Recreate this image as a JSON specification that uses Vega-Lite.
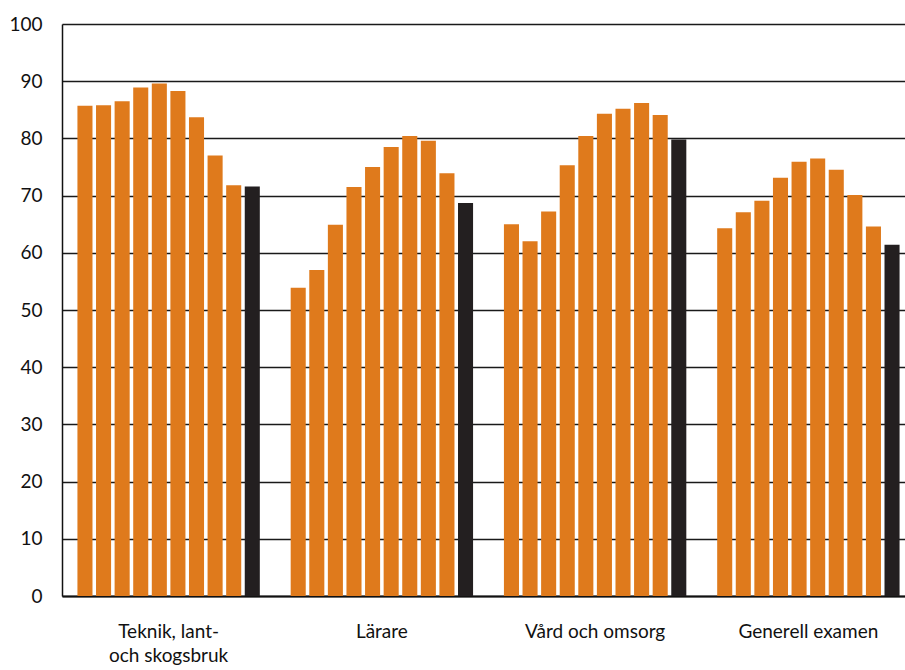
{
  "$schema": "https://vega.github.io/schema/vega-lite/v6.json",
  "autosize": "none",
  "width": 843,
  "height": 572,
  "padding": {"left": 62, "top": 24, "right": 0, "bottom": 74},
  "background": "white",
  "config": {"view": {"stroke": null}, "font": "Lato"},
  "data": {"values": [
    {"g": "Teknik, lant-|och skogsbruk", "i": 1, "t": "a", "v": 85.7},
    {"g": "Teknik, lant-|och skogsbruk", "i": 2, "t": "a", "v": 85.8},
    {"g": "Teknik, lant-|och skogsbruk", "i": 3, "t": "a", "v": 86.5},
    {"g": "Teknik, lant-|och skogsbruk", "i": 4, "t": "a", "v": 88.9},
    {"g": "Teknik, lant-|och skogsbruk", "i": 5, "t": "a", "v": 89.6},
    {"g": "Teknik, lant-|och skogsbruk", "i": 6, "t": "a", "v": 88.3},
    {"g": "Teknik, lant-|och skogsbruk", "i": 7, "t": "a", "v": 83.7},
    {"g": "Teknik, lant-|och skogsbruk", "i": 8, "t": "a", "v": 77.0},
    {"g": "Teknik, lant-|och skogsbruk", "i": 9, "t": "a", "v": 71.8},
    {"g": "Teknik, lant-|och skogsbruk", "i": 10, "t": "b", "v": 71.6},
    {"g": "Lärare", "i": 1, "t": "a", "v": 53.9},
    {"g": "Lärare", "i": 2, "t": "a", "v": 57.0},
    {"g": "Lärare", "i": 3, "t": "a", "v": 64.9},
    {"g": "Lärare", "i": 4, "t": "a", "v": 71.5},
    {"g": "Lärare", "i": 5, "t": "a", "v": 75.0},
    {"g": "Lärare", "i": 6, "t": "a", "v": 78.5},
    {"g": "Lärare", "i": 7, "t": "a", "v": 80.4},
    {"g": "Lärare", "i": 8, "t": "a", "v": 79.6},
    {"g": "Lärare", "i": 9, "t": "a", "v": 73.9},
    {"g": "Lärare", "i": 10, "t": "b", "v": 68.7},
    {"g": "Vård och omsorg", "i": 1, "t": "a", "v": 65.0},
    {"g": "Vård och omsorg", "i": 2, "t": "a", "v": 62.0},
    {"g": "Vård och omsorg", "i": 3, "t": "a", "v": 67.2},
    {"g": "Vård och omsorg", "i": 4, "t": "a", "v": 75.3},
    {"g": "Vård och omsorg", "i": 5, "t": "a", "v": 80.4},
    {"g": "Vård och omsorg", "i": 6, "t": "a", "v": 84.3},
    {"g": "Vård och omsorg", "i": 7, "t": "a", "v": 85.2},
    {"g": "Vård och omsorg", "i": 8, "t": "a", "v": 86.2},
    {"g": "Vård och omsorg", "i": 9, "t": "a", "v": 84.1},
    {"g": "Vård och omsorg", "i": 10, "t": "b", "v": 79.8},
    {"g": "Generell examen", "i": 1, "t": "a", "v": 64.3},
    {"g": "Generell examen", "i": 2, "t": "a", "v": 67.1},
    {"g": "Generell examen", "i": 3, "t": "a", "v": 69.1},
    {"g": "Generell examen", "i": 4, "t": "a", "v": 73.1},
    {"g": "Generell examen", "i": 5, "t": "a", "v": 75.9},
    {"g": "Generell examen", "i": 6, "t": "a", "v": 76.5},
    {"g": "Generell examen", "i": 7, "t": "a", "v": 74.5},
    {"g": "Generell examen", "i": 8, "t": "a", "v": 70.1},
    {"g": "Generell examen", "i": 9, "t": "a", "v": 64.6},
    {"g": "Generell examen", "i": 10, "t": "b", "v": 61.4}
  ]},
  "mark": {"type": "bar"},
  "encoding": {
    "x": {
      "field": "g", "type": "nominal", "sort": null, "title": null,
      "scale": {"paddingInner": 0, "paddingOuter": 0, "range": [0, 853]},
      "axis": {
        "labelAngle": 0, "ticks": false, "domainColor": "#111111", "domainWidth": 2,
        "labelFontSize": 19, "labelColor": "#111111", "labelPadding": 26,
        "labelLineHeight": 24, "labelExpr": "split(datum.label, '|')",
        "labelFont": "Lato"
      }
    },
    "xOffset": {
      "field": "i", "type": "ordinal",
      "scale": {"paddingInner": 0.19, "paddingOuter": 0.83}
    },
    "y": {
      "field": "v", "type": "quantitative", "title": null,
      "scale": {"domain": [0, 100], "nice": false},
      "axis": {
        "values": [0, 10, 20, 30, 40, 50, 60, 70, 80, 90, 100],
        "ticks": false, "grid": true, "gridColor": "#1a1a1a", "gridWidth": 1.5,
        "domainColor": "#111111", "domainWidth": 1.5,
        "labelFontSize": 19, "labelColor": "#111111", "labelPadding": 20,
        "labelFont": "Lato"
      }
    },
    "color": {
      "field": "t", "type": "nominal", "legend": null,
      "scale": {"domain": ["a", "b"], "range": ["#DF7A1C", "#231F20"]}
    }
  }
}
